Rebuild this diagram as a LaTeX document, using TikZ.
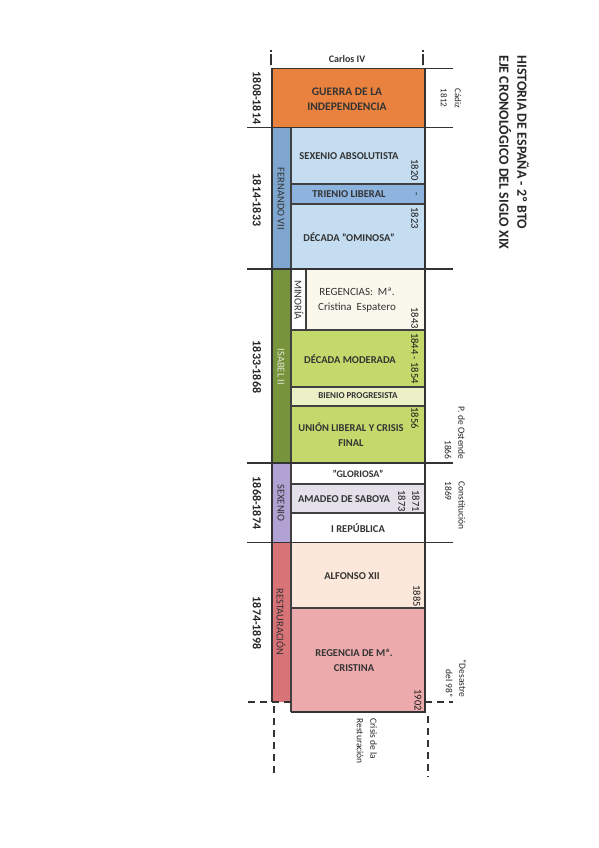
\documentclass[tikz,border=0pt]{standalone}
\usepackage{fontspec}
\setmainfont{Carlito}
\usepackage{tikz}

\begin{document}
\begin{tikzpicture}[x=1pt, y=-1pt,
    era/.style={font=\bfseries\fontsize{12}{14}\selectfont, rotate=-90, text=black!85},
    reign/.style={font=\fontsize{10.5}{12}\selectfont, rotate=-90, text=black!80},
    period/.style={font=\bfseries\fontsize{10.5}{15}\selectfont, align=center, text=black!80},
    yr/.style={font=\fontsize{10.5}{14}\selectfont, rotate=-90, inner sep=1pt, text=black!90, align=center},
    note/.style={font=\fontsize{9.5}{13.5}\selectfont, rotate=-90, text=black!85},
    ext/.style={line width=1.1pt, black!80},
    divide/.style={line width=1.1pt, black!75},
    frame/.style={line width=1.6pt, black!80},
    cut/.style={line width=1.4pt, black!80, dash pattern=on 7pt off 5pt}]
        \definecolor{guerra}{HTML}{E9823F}
        \definecolor{fernando}{HTML}{7EA6CF}
        \definecolor{lblue}{HTML}{C5DDF1}
        \definecolor{mblue}{HTML}{8DB3DF}
        \definecolor{isabel}{HTML}{77933C}
        \definecolor{cream}{HTML}{FAF8EC}
        \definecolor{lime}{HTML}{C4D96C}
        \definecolor{palelime}{HTML}{EBF0C6}
        \definecolor{sexenio}{HTML}{B2A1D3}
        \definecolor{amadeo}{HTML}{E4E1EA}
        \definecolor{restau}{HTML}{D87478}
        \definecolor{peach}{HTML}{FBE8DA}
        \definecolor{rosa}{HTML}{ECAAAD}
        \useasboundingbox[fill=white] (0,0) rectangle (599,848);

        % Fill the periods
        \fill[guerra] (272,68.5) rectangle (425,127.5);
        \fill[fernando] (272,127.5) rectangle (291,269);
        \fill[isabel] (272,269) rectangle (291,463);
        \fill[sexenio] (272,463) rectangle (291,542.5);
        \fill[restau] (272,542.5) rectangle (291,702);
        \fill[lblue] (291,127.5) rectangle (425,184);
        \fill[mblue] (291,184) rectangle (425,204);
        \fill[lblue] (291,204) rectangle (425,269);
        \fill[white] (291,269) rectangle (306,330);
        \fill[cream] (306,269) rectangle (425,330);
        \fill[lime] (291,330) rectangle (425,387);
        \fill[palelime] (291,387) rectangle (425,406);
        \fill[lime] (291,406) rectangle (425,463);
        \fill[white] (291,463) rectangle (425,484);
        \fill[amadeo] (291,484) rectangle (425,513);
        \fill[white] (291,513) rectangle (425,542.5);
        \fill[peach] (291,542.5) rectangle (425,608);
        \fill[rosa] (291,608) rectangle (425,712);

        % Draw the inner dividers
        \draw[divide] (291,127.5) -- (291,712);
        \draw[divide] (306,269) -- (306,330);
        \foreach \y in {184,204,330,387,406,484,513,608}
            \draw[divide] (291,\y) -- (425,\y);

        % Draw the limits of the reigns
        \draw[ext] (272,68.5) -- (453,68.5);
        \foreach \y in {127.5,269,463,542.5}
            \draw[ext] (247,\y) -- (453,\y);
        \draw[cut] (248,702) -- (291,702);
        \draw[cut] (425,702) -- (453,702);

        % Draw the frame of the axis
        \draw[frame] (272,68.5) -- (272,702);
        \draw[frame] (425,68.5) -- (425,712) -- (291,712);

        % Marks above and below the axis
        \draw[line width=1.6pt, black!80, dash pattern=on 2pt off 2pt on 11pt off 0pt] (271,50) -- (271,65);
        \draw[line width=1.6pt, black!80, dash pattern=on 2pt off 2pt on 11pt off 0pt] (423,50) -- (423,65);
        \draw[cut] (274,706) -- (274,777);
        \draw[cut] (428,716) -- (428,777);

        % Title
        \node[font=\bfseries\fontsize{14}{18}\selectfont, rotate=-90, anchor=west, align=left, text=black!85] (title) at (514,52)
            {HISTORIA DE ESPAÑA - 2º BTO\\EJE CRONOLÓGICO DEL SIGLO XIX};

        % Kings and periods
        \node[font=\bfseries\fontsize{10}{12}\selectfont, text=black!80] (carlos) at (347,59) {Carlos IV};
        \node[era] (e1808) at (257,98) {1808-1814};
        \node[era] (e1814) at (257,200) {1814-1833};
        \node[era] (e1833) at (257,367) {1833-1868};
        \node[era] (e1868) at (257,503) {1868-1874};
        \node[era] (e1874) at (257,623) {1874-1898};

        \node[reign] (fernando7) at (281,199) {FERNANDO VII};
        \node[reign, text=isabel!25] (isabel2) at (281,367) {ISABEL II};
        \node[reign] (minoria) at (299,300) {MINORÍA};
        \node[reign] (sexenio) at (281,503) {SEXENIO};
        \node[reign] (restauracion) at (281,622) {RESTAURACIÓN};

        \node[period, font=\bfseries\fontsize{11.5}{15}\selectfont] (guerra) at (347,99) {GUERRA DE LA\\INDEPENDENCIA};
        \node[period] (absolutista) at (349,156) {SEXENIO ABSOLUTISTA};
        \node[period] (trienio) at (349,194) {TRIENIO LIBERAL};
        \node[period] (ominosa) at (349,237) {DÉCADA "OMINOSA"};
        \node[period, font=\fontsize{11}{15}\selectfont] (regencias) at (357,300) {REGENCIAS:~~Mª.\\Cristina~~Espatero};
        \node[period] (moderada) at (350,359) {DÉCADA MODERADA};
        \node[period, font=\bfseries\fontsize{9}{12}\selectfont] (bienio) at (358,396) {BIENIO PROGRESISTA};
        \node[period] (union) at (351,434.5) {UNIÓN LIBERAL Y CRISIS\\FINAL};
        \node[period, font=\bfseries\fontsize{10}{12}\selectfont] (gloriosa) at (358,474) {"GLORIOSA"};
        \node[period] (amadeo) at (344,499) {AMADEO DE SABOYA};
        \node[period] (republica) at (358,528) {I REPÚBLICA};
        \node[period] (alfonso) at (352,576) {ALFONSO XII};
        \node[period] (regencia) at (354,660.5) {REGENCIA DE Mª.\\CRISTINA};

        % Years inside the axis
        \node[yr] (y1820) at (415,170) {1820};
        \node[yr] (ydash) at (415,194) {-};
        \node[yr] (y1823) at (415,218) {1823};
        \node[yr] (y1843) at (415,318) {1843};
        \node[yr] (y1844) at (415,358.5) {1844 - 1854};
        \node[yr] (y1856) at (415,418) {1856};
        \node[yr] (y1871) at (409,501) {1871\\1873};
        \node[yr] (y1885) at (417,596) {1885};
        \node[yr] (y1902) at (418,700) {1902};

        % Notes on the right
        \node[note, font=\fontsize{9}{14}\selectfont, align=center] (cadiz) at (451,98) {Cádiz\\1812};
        \node[note, anchor=east, align=right] (ostende) at (455,463) {P. de Ostende\\1866};
        \node[note, anchor=west, align=left] (constitucion) at (455,478) {Constitución\\1869};
        \node[note, anchor=east, align=right] (desastre) at (456,701) {“Desastre\\del 98”};
        \node[note, anchor=west, align=left] (crisis) at (367,715) {Crisis de la\\Resturación};
\end{tikzpicture}
\end{document}
